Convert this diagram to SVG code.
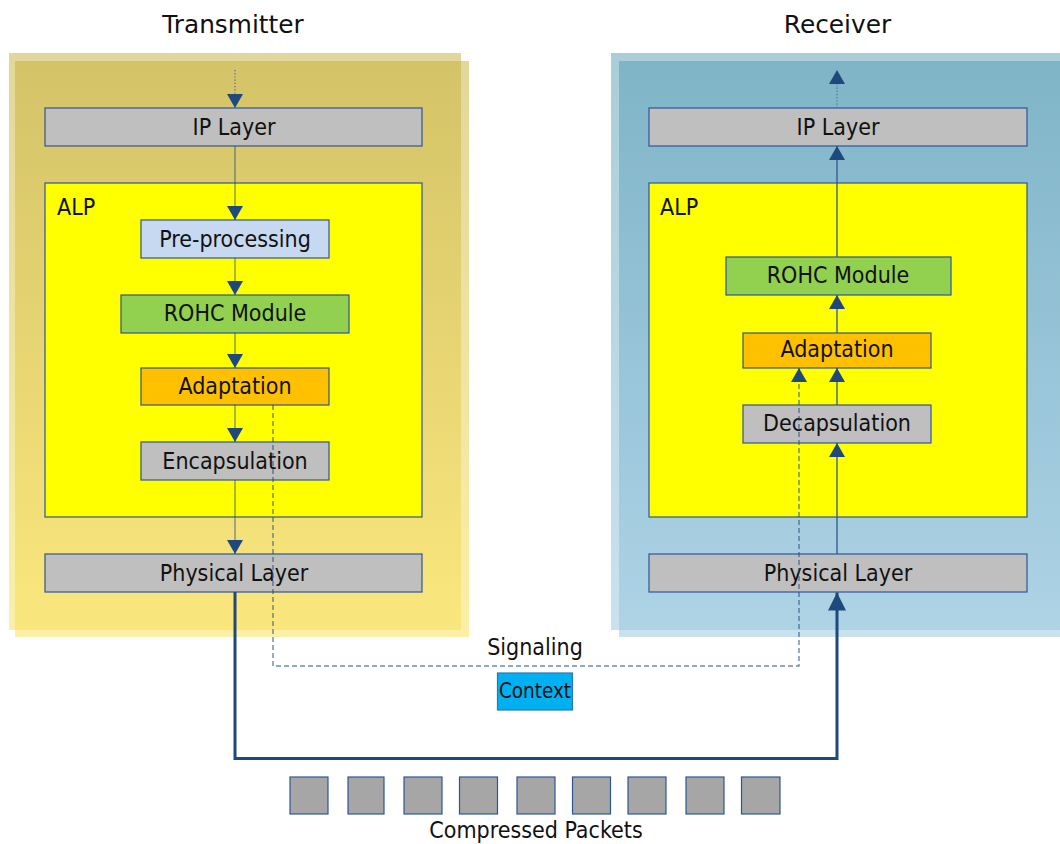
<svg xmlns="http://www.w3.org/2000/svg" width="1060" height="844" viewBox="0 0 1060 844">
<style>
.box{stroke:#2F5597;stroke-width:1.2}
.lbl{font-family:"DejaVu Sans Condensed","DejaVu Sans",sans-serif;font-stretch:condensed;font-size:23px;fill:#111;text-anchor:middle}
.title{font-family:"DejaVu Sans",sans-serif;font-size:24.8px;fill:#111;text-anchor:middle}
.tx{stroke:#1F497D;stroke-opacity:0.6;stroke-width:1.3;fill:none}
.rx{stroke:#2F5597;stroke-width:1.3;fill:none}
.dot{stroke:#4A6A94;stroke-width:1.2;stroke-dasharray:1.2 2;fill:none}
.sig{stroke:#1F497D;stroke-opacity:0.65;stroke-width:1.4;stroke-dasharray:5 3;fill:none}
.thick{stroke:#1F497D;stroke-width:3;fill:none}
.pkt{fill:#A6A6A6;stroke:#2F5597;stroke-width:1.2}
</style>
<defs>
<linearGradient id="gold" x1="0" y1="0" x2="0" y2="1">
<stop offset="0" stop-color="#C5AF35"/>
<stop offset="1" stop-color="#F9DF51"/>
</linearGradient>
<linearGradient id="blue" x1="0" y1="0" x2="0" y2="1">
<stop offset="0" stop-color="#549BB4"/>
<stop offset="1" stop-color="#93C5DD"/>
</linearGradient>
<marker id="ah" markerUnits="userSpaceOnUse" markerWidth="15" markerHeight="17" refX="14" refY="8" orient="auto">
<path d="M0,0 L14,8 L0,16 z" fill="#1F497D"/>
</marker>
<marker id="ahb" markerUnits="userSpaceOnUse" markerWidth="19" markerHeight="19" refX="18" refY="9" orient="auto">
<path d="M0,0 L18,9 L0,18 z" fill="#1F497D"/>
</marker>
</defs>

<g id="transmitter-panel">
<rect x="9" y="53" width="452" height="577" fill="url(#gold)" opacity="0.5"/>
<rect x="15" y="61" width="454" height="576" fill="url(#gold)" opacity="0.5"/>
<text class="title" x="233" y="33">Transmitter</text>
</g>
<g id="receiver-panel">
<rect x="611" y="53" width="460" height="577" fill="url(#blue)" opacity="0.5"/>
<rect x="619" y="61" width="450" height="576" fill="url(#blue)" opacity="0.5"/>
<text class="title" x="837.5" y="33">Receiver</text>
</g>

<g id="tx-ip">
<rect class="box" x="45" y="108" width="377" height="38" fill="#BFBFBF"/>
<text class="lbl" x="234" y="135">IP Layer</text>
</g>
<g id="tx-alp">
<rect class="box" x="45" y="183" width="377" height="334" fill="#FFFF00"/>
<text class="lbl" x="57" y="215" style="text-anchor:start">ALP</text>
</g>
<g id="tx-pre">
<rect class="box" x="141" y="220" width="188" height="38" fill="#C6D9F1"/>
<text class="lbl" x="235" y="247">Pre-processing</text>
</g>
<g id="tx-rohc">
<rect class="box" x="121" y="295" width="228" height="38" fill="#92D050"/>
<text class="lbl" x="235" y="321">ROHC Module</text>
</g>
<g id="tx-adapt">
<rect class="box" x="141" y="368" width="188" height="37" fill="#FFC000"/>
<text class="lbl" x="235" y="394">Adaptation</text>
</g>
<g id="tx-encap">
<rect class="box" x="141" y="442" width="188" height="38" fill="#BFBFBF"/>
<text class="lbl" x="235" y="469">Encapsulation</text>
</g>
<g id="tx-phy">
<rect class="box" x="45" y="554" width="377" height="38" fill="#BFBFBF"/>
<text class="lbl" x="234" y="581">Physical Layer</text>
</g>

<g id="rx-ip">
<rect class="box" x="649" y="108" width="378" height="38" fill="#BFBFBF"/>
<text class="lbl" x="838" y="135">IP Layer</text>
</g>
<g id="rx-alp">
<rect class="box" x="649" y="183" width="378" height="334" fill="#FFFF00"/>
<text class="lbl" x="660" y="215" style="text-anchor:start">ALP</text>
</g>
<g id="rx-rohc">
<rect class="box" x="726" y="257" width="225" height="38" fill="#92D050"/>
<text class="lbl" x="838" y="283">ROHC Module</text>
</g>
<g id="rx-adapt">
<rect class="box" x="743" y="333" width="188" height="35" fill="#FFC000"/>
<text class="lbl" x="837" y="357">Adaptation</text>
</g>
<g id="rx-decap">
<rect class="box" x="743" y="405" width="188" height="38" fill="#BFBFBF"/>
<text class="lbl" x="837" y="431">Decapsulation</text>
</g>
<g id="rx-phy">
<rect class="box" x="649" y="554" width="378" height="38" fill="#BFBFBF"/>
<text class="lbl" x="838" y="581">Physical Layer</text>
</g>

<g id="context">
<rect x="497.5" y="673" width="75" height="37" fill="#00B0F0" stroke="#2E75B6" stroke-width="1.2"/>
<text class="lbl" x="535" y="698" style="font-size:20.5px">Context</text>
</g>

<g id="packets">
<rect class="pkt" x="290" y="777" width="38" height="37"/>
<rect class="pkt" x="348" y="777" width="36" height="37"/>
<rect class="pkt" x="404" y="777" width="38" height="37"/>
<rect class="pkt" x="459.5" y="777" width="38" height="37"/>
<rect class="pkt" x="517" y="777" width="38" height="37"/>
<rect class="pkt" x="572.5" y="777" width="38" height="37"/>
<rect class="pkt" x="628" y="777" width="38" height="37"/>
<rect class="pkt" x="686" y="777" width="38" height="37"/>
<rect class="pkt" x="741.5" y="777" width="38.5" height="37"/>
<text class="lbl" x="536" y="838">Compressed Packets</text>
</g>

<g id="signaling-label">
<text class="lbl" x="535" y="655">Signaling</text>
</g>

<g id="connectors">
<line class="dot" x1="235" y1="70" x2="235" y2="108" marker-end="url(#ah)"/>
<line class="tx" x1="235" y1="146" x2="235" y2="220" marker-end="url(#ah)"/>
<line class="tx" x1="235" y1="258" x2="235" y2="295" marker-end="url(#ah)"/>
<line class="tx" x1="235" y1="333" x2="235" y2="368" marker-end="url(#ah)"/>
<line class="tx" x1="235" y1="405" x2="235" y2="442" marker-end="url(#ah)"/>
<line class="tx" x1="235" y1="480" x2="235" y2="554" marker-end="url(#ah)"/>
<path class="thick" d="M235,592 V758.5 H837 V592.5" marker-end="url(#ahb)"/>
<path class="sig" d="M273,405 V666 H799 V368" marker-end="url(#ah)"/>
<line class="rx" x1="837" y1="554" x2="837" y2="443" marker-end="url(#ah)"/>
<line class="rx" x1="837" y1="405" x2="837" y2="368" marker-end="url(#ah)"/>
<line class="rx" x1="837" y1="333" x2="837" y2="295" marker-end="url(#ah)"/>
<line class="rx" x1="837" y1="257" x2="837" y2="146" marker-end="url(#ah)"/>
<line class="dot" x1="837" y1="108" x2="837" y2="70" marker-end="url(#ah)"/>
</g>
</svg>
